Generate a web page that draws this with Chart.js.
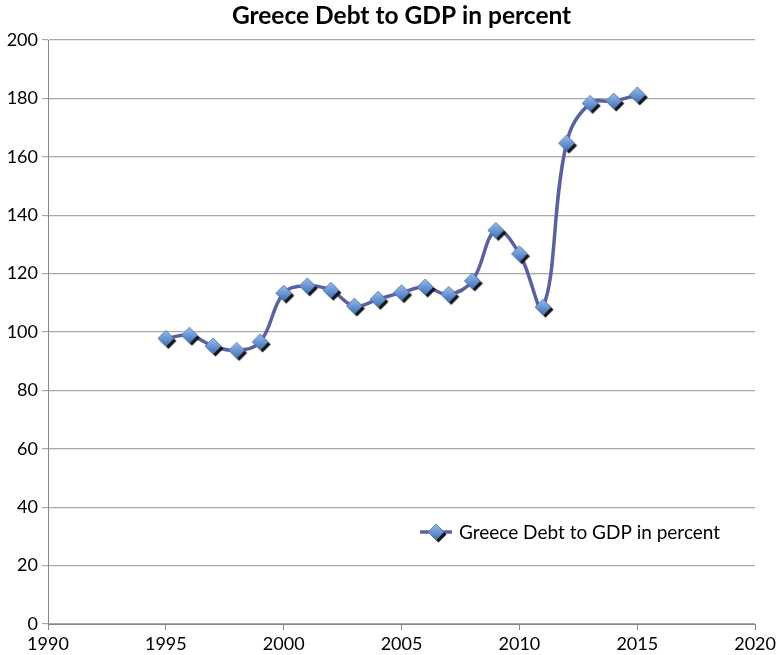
<!DOCTYPE html>
<html>
<head>
<meta charset="utf-8">
<title>Greece Debt to GDP in percent</title>
<script src="https://cdn.jsdelivr.net/npm/chart.js@4/dist/chart.umd.min.js"></script>
<style>
  html, body { margin: 0; padding: 0; background: #fff; }
  #wrap { width: 779px; height: 655px; }
</style>
</head>
<body>
<div id="wrap"><canvas id="chart" width="779" height="655"></canvas></div>
<script>
const years = [1995, 1996, 1997, 1998, 1999, 2000, 2001, 2002, 2003, 2004, 2005,
               2006, 2007, 2008, 2009, 2010, 2011, 2012, 2013, 2014, 2015];
const debtPct = [97.8, 98.9, 95.2, 93.7, 96.6, 113.3, 115.8, 114.3, 108.9, 111.2, 113.5,
                 115.4, 112.9, 117.5, 134.8, 126.8, 108.5, 164.7, 178.3, 179.1, 181.2];
const seriesLabel = "Greece Debt to GDP in percent";
const xTicks = [1990, 1995, 2000, 2005, 2010, 2015, 2020];
const yTicks = [0, 20, 40, 60, 80, 100, 120, 140, 160, 180, 200];

const FONT = "Lato, 'Open Sans', sans-serif";
const LINE_COLOR = "#5b60a0";

// diamond marker with a dark drop shadow, used as the point image
function makeMarker() {
    const c = document.createElement("canvas");
    c.width = 28; c.height = 28;
    const g = c.getContext("2d");
    const diamond = (cx, cy, r) => {
        g.beginPath();
        g.moveTo(cx, cy - r); g.lineTo(cx + r, cy); g.lineTo(cx, cy + r); g.lineTo(cx - r, cy);
        g.closePath();
    };
    diamond(16.5, 16.5, 8);
    g.fillStyle = "#151515";
    g.fill();
    diamond(14, 14, 8);
    const grad = g.createLinearGradient(0, 6, 0, 22);
    grad.addColorStop(0, "#9bbbe8");
    grad.addColorStop(0.5, "#6d96d3");
    grad.addColorStop(1, "#3f6fb5");
    g.fillStyle = grad;
    g.fill();
    g.lineWidth = 0.8;
    g.strokeStyle = "#4a73b0";
    g.stroke();
    return c;
}
const marker = makeMarker();

// title centred over the plot area, legend sitting inside it near the bottom
const titleAndLegend = {
    id: "titleAndLegend",
    afterDraw(chart) {
        const ctx = chart.ctx;
        const a = chart.chartArea;
        ctx.save();
        ctx.fillStyle = "#000";
        ctx.font = "bold 24.5px " + FONT;
        ctx.textAlign = "center";
        ctx.textBaseline = "middle";
        ctx.fillText(seriesLabel, (a.left + a.right) / 2, 16);

        const y = a.bottom - 92;
        const x0 = a.left + 372;
        ctx.strokeStyle = LINE_COLOR;
        ctx.lineWidth = 3.5;
        ctx.beginPath();
        ctx.moveTo(x0, y);
        ctx.lineTo(x0 + 32, y);
        ctx.stroke();
        ctx.drawImage(marker, x0 + 16 - 14, y - 14);
        ctx.font = "19px " + FONT;
        ctx.textAlign = "left";
        ctx.fillText(seriesLabel, x0 + 39, y + 1);
        ctx.restore();
    }
};

const ctx = document.getElementById("chart").getContext("2d");
new Chart(ctx, {
    type: "line",
    data: {
        datasets: [{
            label: seriesLabel,
            data: years.map((yr, i) => ({ x: yr, y: debtPct[i] })),
            borderColor: LINE_COLOR,
            borderWidth: 3.5,
            tension: 0.4,
            pointStyle: marker,
            pointRadius: 8,
            pointHoverRadius: 8,
            fill: false
        }]
    },
    options: {
        responsive: false,
        animation: false,
        layout: { padding: { left: 0, right: 20, top: 40, bottom: 0 } },
        plugins: {
            legend: { display: false },
            tooltip: { enabled: false },
            title: { display: false }
        },
        scales: {
            x: {
                type: "linear",
                min: xTicks[0],
                max: xTicks[xTicks.length - 1],
                afterBuildTicks: s => { s.ticks = xTicks.map(v => ({ value: v })); },
                ticks: {
                    color: "#000",
                    font: { family: FONT, size: 18 },
                    padding: 3,
                    maxRotation: 0,
                    callback: v => String(v)
                },
                grid: { drawOnChartArea: false, drawTicks: true, tickLength: 6, color: "#888" },
                border: { color: "#888", width: 1 },
                afterFit: s => { s.height = 31; }
            },
            y: {
                min: yTicks[0],
                max: yTicks[yTicks.length - 1],
                afterBuildTicks: s => { s.ticks = yTicks.map(v => ({ value: v })); },
                ticks: {
                    color: "#000",
                    font: { family: FONT, size: 18 },
                    padding: 4
                },
                grid: { color: "#a8a8a8", lineWidth: 1.2, drawTicks: true, tickLength: 6 },
                border: { color: "#888", width: 1 },
                afterFit: s => { s.width = 48; }
            }
        }
    },
    plugins: [titleAndLegend]
});
</script>
</body>
</html>
